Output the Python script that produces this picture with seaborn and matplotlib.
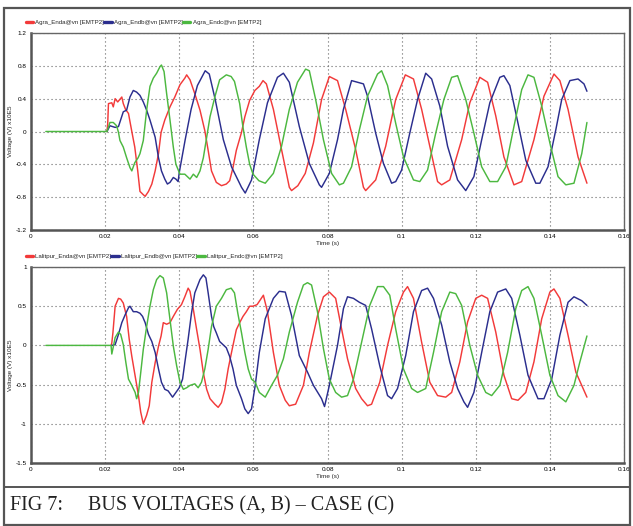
import matplotlib
matplotlib.use("Agg")
import matplotlib.pyplot as plt
import seaborn as sns
import pandas as pd
from matplotlib.lines import Line2D
from matplotlib.patches import Rectangle

# ---------------- data ----------------
x_ticks = [0, 0.02, 0.04, 0.06, 0.08, 0.1, 0.12, 0.14, 0.16]
x_tick_labels = ["0", "0.02", "0.04", "0.06", "0.08", "0.1", "0.12", "0.14", "0.16"]
top_y_ticks = [-1.2, -0.8, -0.4, 0, 0.4, 0.8, 1.2]
top_y_labels = ["-1.2", "-0.8", "-0.4", "0", "0.4", "0.8", "1.2"]
bot_y_ticks = [-1.5, -1, -0.5, 0, 0.5, 1]
bot_y_labels = ["-1.5", "-1", "-0.5", "0", "0.5", "1"]

top_names = ["Agra_Enda@vn [EMTP2]", "Agra_Endb@vn [EMTP2]", "Agra_Endc@vn [EMTP2]"]
bot_names = ["Lalitpur_Enda@vn [EMTP2]", "Lalitpur_Endb@vn [EMTP2]", "Lalitpur_Endc@vn [EMTP2]"]

# top panel, phase a (red)
top_a_t = [0.0205, 0.0207, 0.0209, 0.0218, 0.0222, 0.0227, 0.0234, 0.0245, 0.0249, 0.0255,
           0.0263, 0.0272, 0.028, 0.0288, 0.0294, 0.0303, 0.0308, 0.0317, 0.0326, 0.0335, 0.0344,
           0.0351, 0.0361, 0.0375, 0.0388, 0.0402, 0.0415, 0.042, 0.0429, 0.0442, 0.0456, 0.0469,
           0.0478, 0.0487, 0.05, 0.0514, 0.0527, 0.0536, 0.0545, 0.0554, 0.0568, 0.0577, 0.059,
           0.0604, 0.0616, 0.0626, 0.0635, 0.0654, 0.0676, 0.0697, 0.0703, 0.072, 0.074, 0.0762,
           0.0784, 0.0805, 0.0827, 0.0849, 0.0876, 0.0897, 0.0903, 0.093, 0.0957, 0.0984, 0.101,
           0.1032, 0.1054, 0.1076, 0.1097, 0.1108, 0.113, 0.1162, 0.1184, 0.1211, 0.1232, 0.1254,
           0.1276, 0.1303, 0.1324, 0.1357, 0.1384, 0.1411, 0.1427, 0.1449, 0.1476, 0.150]
top_a_v = [0, 0.10, 0.34, 0.35, 0.30, 0.40, 0.36, 0.42, 0.34, 0.27,
           0.22, 0.0, -0.19, -0.48, -0.73, -0.77, -0.79, -0.73, -0.64, -0.48, -0.27,
           -0.01, 0.14, 0.30, 0.42, 0.57, 0.65, 0.69, 0.63, 0.46, 0.26, 0.01,
           -0.23, -0.48, -0.62, -0.66, -0.64, -0.60, -0.44, -0.23, -0.01, 0.18, 0.38,
           0.50, 0.55, 0.62, 0.58, 0.27, -0.22, -0.68, -0.72, -0.66, -0.51, -0.14,
           0.39, 0.67, 0.62, 0.27, -0.22, -0.68, -0.72, -0.59, -0.18, 0.39, 0.69,
           0.64, 0.27, -0.18, -0.61, -0.65, -0.59, -0.10, 0.35, 0.66, 0.60, 0.19,
           -0.31, -0.65, -0.61, -0.10, 0.43, 0.70, 0.62, 0.27, -0.31, -0.63]

# top panel, phase b (blue)
top_b_t = [0.0205, 0.0213, 0.0227, 0.0236, 0.0249, 0.0258, 0.0267, 0.0276, 0.0285, 0.0294, 0.0303,
           0.0312, 0.0321, 0.0335, 0.0344, 0.0352, 0.0361, 0.0368, 0.0375, 0.0384, 0.0391, 0.0397,
           0.04, 0.0416, 0.0432, 0.0449, 0.047, 0.0481, 0.0497, 0.0519, 0.0541, 0.0568, 0.0578,
           0.0595, 0.0616, 0.0638, 0.0665, 0.0681, 0.0697, 0.0724, 0.0751, 0.0778, 0.0784, 0.0805,
           0.0827, 0.0843, 0.0865, 0.0881, 0.0897, 0.0908, 0.093, 0.0951, 0.0973, 0.0984, 0.1,
           0.1022, 0.1043, 0.1065, 0.1081, 0.1103, 0.1124, 0.1151, 0.1173, 0.1195, 0.1216, 0.1238,
           0.1265, 0.1276, 0.1292, 0.1314, 0.1335, 0.1362, 0.1373, 0.1395, 0.1416, 0.1432, 0.1454,
           0.1476, 0.1492, 0.150]
top_b_v = [0, 0.07, 0.05, 0.06, 0.24, 0.26, 0.42, 0.50, 0.48, 0.44, 0.36,
           0.26, 0.14, -0.07, -0.32, -0.48, -0.58, -0.64, -0.62, -0.56, -0.58, -0.61,
           -0.50, -0.10, 0.27, 0.56, 0.74, 0.70, 0.39, -0.10, -0.43, -0.68, -0.75,
           -0.59, -0.10, 0.35, 0.66, 0.71, 0.60, 0.06, -0.39, -0.65, -0.68, -0.51,
           -0.10, 0.27, 0.62, 0.60, 0.58, 0.43, -0.02, -0.39, -0.63, -0.61, -0.47,
           -0.02, 0.39, 0.71, 0.64, 0.31, -0.18, -0.59, -0.72, -0.55, -0.10, 0.35,
           0.66, 0.68, 0.56, 0.10, -0.35, -0.63, -0.63, -0.43, 0.02, 0.39, 0.62,
           0.64, 0.58, 0.49]

# top panel, phase c (green)
top_c_t = [0.004, 0.0205, 0.0213, 0.0222, 0.0231, 0.0236, 0.024, 0.0249, 0.0258, 0.0267, 0.0272,
           0.028, 0.0289, 0.0294, 0.0303, 0.0312, 0.0321, 0.033, 0.0339, 0.0348, 0.0352, 0.0359,
           0.0366, 0.0375, 0.0384, 0.0391, 0.0402, 0.0415, 0.0429, 0.0438, 0.0447, 0.0456, 0.0465,
           0.0474, 0.0483, 0.0496, 0.0509, 0.0527, 0.054, 0.0549, 0.0563, 0.0572, 0.0581, 0.059,
           0.0599, 0.0615, 0.0632, 0.0654, 0.0676, 0.0697, 0.0719, 0.0741, 0.0751, 0.0768, 0.0789,
           0.0811, 0.0832, 0.0843, 0.0865, 0.0886, 0.0908, 0.0935, 0.0946, 0.0962, 0.0984, 0.1005,
           0.1032, 0.1049, 0.107, 0.1092, 0.1114, 0.1135, 0.1151, 0.1173, 0.1195, 0.1216, 0.1238,
           0.1259, 0.1281, 0.1303, 0.1324, 0.1341, 0.1357, 0.1378, 0.14, 0.1422, 0.1443, 0.1465,
           0.1486, 0.150]
top_c_v = [0, 0, 0.11, 0.11, 0.07, -0.01, -0.11, -0.19, -0.32, -0.44, -0.48,
           -0.38, -0.32, -0.27, -0.11, 0.26, 0.55, 0.65, 0.71, 0.79, 0.81, 0.73,
           0.46, 0.14, -0.19, -0.40, -0.52, -0.52, -0.58, -0.52, -0.56, -0.48, -0.32,
           -0.07, 0.18, 0.42, 0.63, 0.69, 0.67, 0.61, 0.34, 0.05, -0.19, -0.40,
           -0.52, -0.60, -0.63, -0.51, -0.18, 0.27, 0.60, 0.76, 0.74, 0.39, -0.10,
           -0.51, -0.65, -0.63, -0.43, 0.02, 0.43, 0.70, 0.74, 0.56, 0.10, -0.31,
           -0.59, -0.61, -0.47, -0.02, 0.39, 0.66, 0.68, 0.39, -0.02, -0.43, -0.61,
           -0.61, -0.43, 0.06, 0.51, 0.69, 0.66, 0.31, -0.14, -0.55, -0.65, -0.63,
           -0.27, 0.11]

# bottom panel, phase a (red)
bot_a_t = [0.0216, 0.0218, 0.0221, 0.0227, 0.0236, 0.0242, 0.0249, 0.0258, 0.0265, 0.0272,
           0.0281, 0.029, 0.0296, 0.0303, 0.0312, 0.0319, 0.0326, 0.0335, 0.0344, 0.0351, 0.0357,
           0.0366, 0.0375, 0.0384, 0.0395, 0.0406, 0.0415, 0.0424, 0.0429, 0.0438, 0.0447, 0.0456,
           0.0465, 0.0474, 0.0483, 0.0496, 0.0505, 0.0514, 0.0523, 0.0532, 0.0541, 0.0554, 0.0563,
           0.0572, 0.0581, 0.059, 0.0599, 0.061, 0.0627, 0.0638, 0.0654, 0.067, 0.0686, 0.0697,
           0.0714, 0.0735, 0.0751, 0.0773, 0.0789, 0.0805, 0.0822, 0.0838, 0.0854, 0.0876, 0.0892,
           0.0908, 0.0919, 0.0941, 0.0962, 0.0984, 0.1005, 0.1016, 0.1032, 0.1054, 0.1076, 0.1097,
           0.1119, 0.1135, 0.1157, 0.1178, 0.12, 0.1216, 0.1232, 0.1254, 0.1276, 0.1297, 0.1314,
           0.1335, 0.1357, 0.1378, 0.14, 0.1411, 0.1427, 0.1449, 0.147, 0.150]
bot_a_v = [0, 0.03, 0.16, 0.50, 0.60, 0.59, 0.54, 0.37, 0.08, -0.14,
           -0.39, -0.64, -0.85, -1.0, -0.89, -0.77, -0.47, -0.22, -0.01, 0.12, 0.29,
           0.27, 0.29, 0.37, 0.46, 0.52, 0.62, 0.73, 0.69, 0.46, 0.20, -0.05,
           -0.35, -0.56, -0.68, -0.75, -0.79, -0.73, -0.56, -0.30, -0.09, 0.20, 0.29,
           0.37, 0.43, 0.50, 0.50, 0.52, 0.64, 0.43, -0.09, -0.51, -0.70, -0.77,
           -0.75, -0.51, -0.09, 0.38, 0.62, 0.68, 0.60, 0.21, -0.17, -0.55, -0.68,
           -0.77, -0.75, -0.47, 0.0, 0.43, 0.68, 0.75, 0.60, 0.04, -0.47, -0.64,
           -0.66, -0.60, -0.21, 0.30, 0.60, 0.64, 0.60, 0.17, -0.38, -0.68, -0.70,
           -0.60, -0.21, 0.34, 0.68, 0.72, 0.60, 0.13, -0.34, -0.66]

# bottom panel, phase b (blue)
bot_b_t = [0.0218, 0.0227, 0.0236, 0.0245, 0.0254, 0.0263, 0.0267, 0.0276, 0.0285, 0.0294, 0.0301,
           0.0308, 0.0317, 0.0326, 0.0335, 0.0344, 0.0352, 0.0361, 0.037, 0.0382, 0.0391, 0.04,
           0.0409, 0.0415, 0.0424, 0.0433, 0.0442, 0.0456, 0.0465, 0.0472, 0.0478, 0.0487, 0.0493,
           0.05, 0.0509, 0.0518, 0.0527, 0.0536, 0.0545, 0.0554, 0.0568, 0.0577, 0.0586, 0.0595,
           0.0605, 0.0616, 0.0632, 0.0654, 0.067, 0.0686, 0.0703, 0.0724, 0.0746, 0.0762, 0.0784,
           0.0792, 0.0805, 0.0827, 0.0843, 0.0854, 0.087, 0.0886, 0.0903, 0.0919, 0.0941, 0.0962,
           0.0973, 0.0989, 0.1011, 0.1032, 0.1054, 0.107, 0.1086, 0.1108, 0.113, 0.1151, 0.1168,
           0.1178, 0.1195, 0.1216, 0.1238, 0.1259, 0.1281, 0.1297, 0.1319, 0.1341, 0.1368, 0.1384,
           0.1405, 0.1427, 0.1449, 0.1465, 0.1486, 0.150]
bot_b_v = [0, 0.01, 0.14, 0.29, 0.39, 0.48, 0.50, 0.43, 0.43, 0.41, 0.37,
           0.29, 0.14, 0.05, -0.09, -0.30, -0.47, -0.56, -0.58, -0.66, -0.60, -0.54,
           -0.43, -0.22, 0.08, 0.41, 0.67, 0.84, 0.90, 0.86, 0.67, 0.37, 0.24,
           0.16, 0.05, 0.01, -0.03, -0.14, -0.30, -0.51, -0.68, -0.81, -0.87, -0.81,
           -0.51, -0.09, 0.34, 0.60, 0.69, 0.68, 0.38, -0.13, -0.34, -0.51, -0.68,
           -0.78, -0.51, 0.0, 0.47, 0.62, 0.60, 0.55, 0.51, 0.21, -0.26, -0.64,
           -0.68, -0.55, -0.13, 0.43, 0.70, 0.73, 0.60, 0.26, -0.21, -0.55, -0.72,
           -0.79, -0.60, -0.09, 0.43, 0.68, 0.72, 0.60, 0.13, -0.38, -0.68, -0.68,
           -0.43, 0.13, 0.55, 0.62, 0.57, 0.51]

# bottom panel, phase c (green)
bot_c_t = [0.004, 0.0216, 0.0218, 0.0222, 0.0227, 0.0236, 0.0242, 0.0249, 0.0256, 0.0263, 0.0272,
           0.0281, 0.0285, 0.029, 0.0296, 0.0303, 0.0312, 0.0321, 0.033, 0.0339, 0.0348, 0.0357,
           0.0366, 0.0375, 0.0384, 0.0393, 0.0402, 0.0411, 0.042, 0.0429, 0.0442, 0.0451, 0.046,
           0.0469, 0.0478, 0.0487, 0.05, 0.0514, 0.0527, 0.054, 0.0549, 0.0558, 0.0568, 0.0577,
           0.0586, 0.0595, 0.0605, 0.0616, 0.0632, 0.0649, 0.0665, 0.0681, 0.0697, 0.0719, 0.0735,
           0.0746, 0.0757, 0.0773, 0.0789, 0.0805, 0.0822, 0.0838, 0.0854, 0.087, 0.0892, 0.0914,
           0.0935, 0.0951, 0.0968, 0.0984, 0.1005, 0.1027, 0.1043, 0.1065, 0.1086, 0.1108, 0.113,
           0.1146, 0.1162, 0.1184, 0.1205, 0.1227, 0.1243, 0.1265, 0.1286, 0.1308, 0.1324, 0.1341,
           0.1357, 0.1378, 0.14, 0.1422, 0.1443, 0.1465, 0.1481, 0.150]
bot_c_v = [0, 0, -0.11, -0.02, 0.10, 0.17, 0.14, 0.01, -0.22, -0.43, -0.51,
           -0.60, -0.68, -0.60, -0.35, -0.05, 0.24, 0.50, 0.71, 0.84, 0.89, 0.86,
           0.67, 0.33, -0.01, -0.26, -0.47, -0.56, -0.54, -0.51, -0.49, -0.54, -0.47,
           -0.30, -0.05, 0.24, 0.50, 0.60, 0.71, 0.73, 0.67, 0.41, 0.16, -0.09,
           -0.30, -0.43, -0.47, -0.60, -0.66, -0.51, -0.38, -0.17, 0.17, 0.55, 0.77,
           0.80, 0.77, 0.43, -0.04, -0.43, -0.60, -0.66, -0.64, -0.43, 0.04, 0.51,
           0.75, 0.75, 0.64, 0.21, -0.30, -0.55, -0.60, -0.55, -0.09, 0.43, 0.68,
           0.66, 0.51, 0.0, -0.38, -0.60, -0.64, -0.51, -0.09, 0.47, 0.70, 0.75,
           0.60, 0.13, -0.38, -0.64, -0.72, -0.51, -0.21, 0.12]

colors = ["#f23a3a", "#2b2e8e", "#4cb840"]

# ---------------- figure ----------------
sns.set_theme(style="white")
plt.rcParams["font.family"] = ["Liberation Sans", "DejaVu Sans"]

W, H = 633, 526
fig = plt.figure(figsize=(W / 100, H / 100), dpi=100)
fig.patch.set_facecolor("white")


def fx(px):
    return px / W


def fy(py):
    return 1 - py / H


def make_axes(top_px, bot_px):
    left, right = 31, 624
    return fig.add_axes([fx(left), fy(bot_px), fx(right) - fx(left), fy(top_px) - fy(bot_px)])


panels = [
    (make_axes(33, 230), [(top_a_t, top_a_v), (top_b_t, top_b_v), (top_c_t, top_c_v)],
     top_names, top_y_ticks, top_y_labels, (-1.2, 1.2)),
    (make_axes(267, 463), [(bot_a_t, bot_a_v), (bot_b_t, bot_b_v), (bot_c_t, bot_c_v)],
     bot_names, bot_y_ticks, bot_y_labels, (-1.5, 1.0)),
]

for ax, series, names, yt, yl, ylim in panels:
    for (t, v), name, c in zip(series, names, colors):
        df = pd.DataFrame({"t": t, "v": v})
        sns.lineplot(data=df, x="t", y="v", ax=ax, color=c, lw=1.05,
                     estimator=None, sort=False, legend=False)
    ax.set_xlim(0, 0.16)
    ax.set_ylim(*ylim)
    ax.set_xticks(x_ticks)
    ax.set_xticklabels(x_tick_labels)
    ax.set_yticks(yt)
    ax.set_yticklabels(yl)
    ax.grid(True, color="#666666", linestyle=(0, (1, 2.6)), linewidth=0.8)
    ax.tick_params(axis="both", direction="inout", length=3, width=0.8,
                   labelsize=4.6, colors="#333333", pad=1.5)
    ax.tick_params(axis="both", labelcolor="black")
    for s in ["left", "bottom"]:
        ax.spines[s].set_color("#555555")
        ax.spines[s].set_linewidth(1.8)
    for s in ["top", "right"]:
        ax.spines[s].set_color("#666666")
        ax.spines[s].set_linewidth(1.0)
    ax.set_xlabel("Time (s)", fontsize=4.6, labelpad=1.5)
    ax.set_ylabel("Voltage (V) x10E5", fontsize=4.6, labelpad=2)
    handles = [Line2D([0], [0], color=c, lw=2.4) for c in colors]
    ax.legend(handles, names, loc="lower left", bbox_to_anchor=(-0.012, 1.03), ncol=3,
              frameon=False, fontsize=4.4, handlelength=1.2, handletextpad=0.4,
              columnspacing=0.0, borderaxespad=0.2, borderpad=0.1)

# outer frame and caption separator
fig.add_artist(Rectangle((fx(4), fy(525)), fx(630) - fx(4), fy(8) - fy(525),
                         transform=fig.transFigure, fill=False, edgecolor="#555555", lw=1.6))
fig.add_artist(Line2D([fx(4), fx(630)], [fy(487), fy(487)], transform=fig.transFigure,
                      color="#555555", lw=1.4))
fig.text(fx(10), fy(506), "FIG 7:     BUS VOLTAGES (A, B) \u2013 CASE (C)",
         fontsize=14.5, family=["Liberation Serif", "DejaVu Serif"], va="center", ha="left",
         color="#222222")

fig.savefig("out.png", dpi=100)
